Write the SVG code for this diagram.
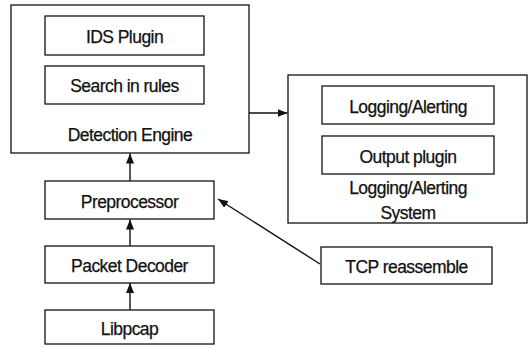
<svg xmlns="http://www.w3.org/2000/svg" width="529" height="347" viewBox="0 0 529 347">
  <style>
    .box { fill: #fff; stroke: #111; stroke-width: 1.3; }
    .lbl { font-family: "Liberation Sans", Arial, sans-serif; font-size: 17.5px; fill: #111; stroke: #111; stroke-width: 0.25; text-anchor: middle; letter-spacing: -0.55px; }
    .edge { stroke: #111; stroke-width: 1.4; fill: none; }
  </style>
  <defs>
    <marker id="head" viewBox="0 0 10 8" refX="10" refY="4" markerWidth="10" markerHeight="8" markerUnits="userSpaceOnUse" orient="auto">
      <path d="M0,0 L10,4 L0,8 Z" fill="#111"/>
    </marker>
  </defs>

  <rect width="529" height="347" fill="#fff"/>

  <!-- Detection engine container -->
  <g id="detection-engine">
    <rect class="box" x="11" y="5" width="238" height="148"/>
    <text class="lbl" x="130" y="141">Detection Engine</text>
  </g>
  <g id="ids-plugin">
    <rect class="box" x="45" y="16" width="159" height="39"/>
    <text class="lbl" x="124.5" y="42.5">IDS Plugin</text>
  </g>
  <g id="search-in-rules">
    <rect class="box" x="45" y="66" width="159" height="38"/>
    <text class="lbl" x="124.5" y="92">Search in rules</text>
  </g>

  <!-- Logging/alerting system container -->
  <g id="logging-system">
    <rect class="box" x="288" y="75" width="239" height="148"/>
    <text class="lbl" x="408" y="194">Logging/Alerting</text>
    <text class="lbl" x="408" y="219">System</text>
  </g>
  <g id="logging-alerting">
    <rect class="box" x="322" y="86" width="172" height="38"/>
    <text class="lbl" x="408" y="112.5">Logging/Alerting</text>
  </g>
  <g id="output-plugin">
    <rect class="box" x="322" y="136" width="172" height="38"/>
    <text class="lbl" x="408" y="162.5">Output plugin</text>
  </g>

  <!-- Processing chain -->
  <g id="preprocessor">
    <rect class="box" x="45" y="181" width="169" height="38"/>
    <text class="lbl" x="129.5" y="207.5">Preprocessor</text>
  </g>
  <g id="packet-decoder">
    <rect class="box" x="45" y="246" width="169" height="37"/>
    <text class="lbl" x="129.5" y="272">Packet Decoder</text>
  </g>
  <g id="libpcap">
    <rect class="box" x="45" y="310" width="169" height="34"/>
    <text class="lbl" x="129.5" y="334.5">Libpcap</text>
  </g>
  <g id="tcp-reassemble">
    <rect class="box" x="321" y="247" width="171" height="37"/>
    <text class="lbl" x="406.5" y="273">TCP reassemble</text>
  </g>

  <!-- Connectors -->
  <g id="connectors">
    <line class="edge" x1="130" y1="310" x2="130" y2="283" marker-end="url(#head)"/>
    <line class="edge" x1="130" y1="246" x2="130" y2="219.5" marker-end="url(#head)"/>
    <line class="edge" x1="130" y1="181" x2="130" y2="153.5" marker-end="url(#head)"/>
    <line class="edge" x1="249" y1="113" x2="287.5" y2="113" marker-end="url(#head)"/>
    <line class="edge" x1="320" y1="264" x2="218" y2="199" marker-end="url(#head)"/>
  </g>
</svg>
